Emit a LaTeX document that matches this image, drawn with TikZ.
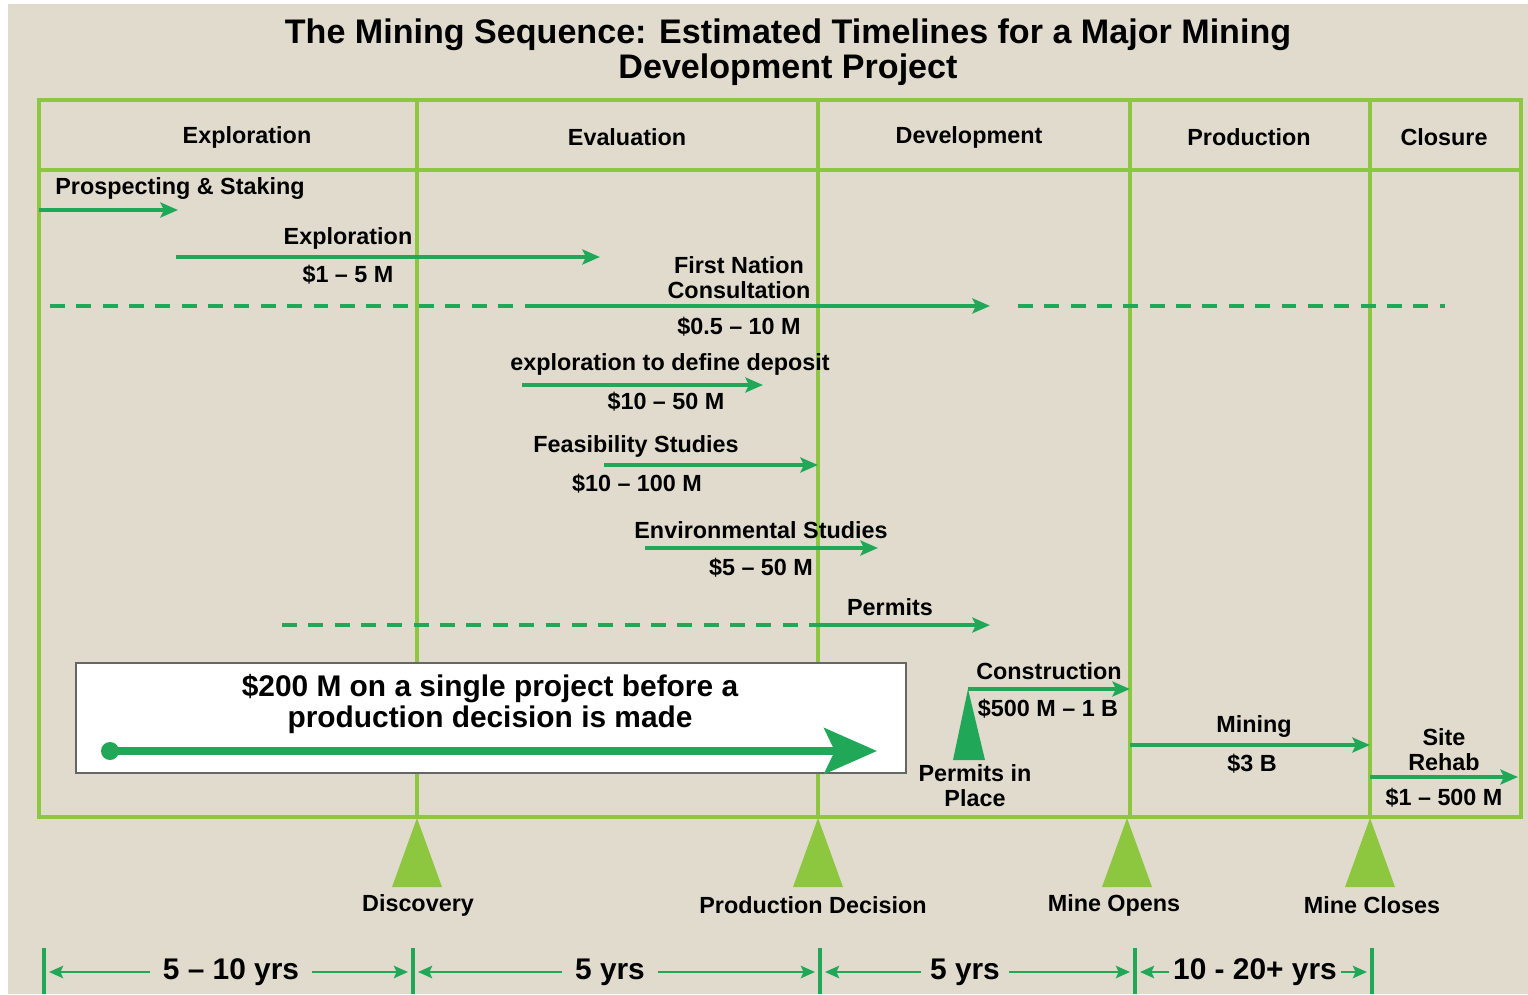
\documentclass[tikz,border=0pt]{standalone}
\usepackage{fontspec}
\setmainfont{Liberation Sans}
\usetikzlibrary{arrows.meta,calc}

\definecolor{paper}{RGB}{225,219,205}
\definecolor{lime}{RGB}{141,198,63}
\definecolor{leaf}{RGB}{32,168,88}

\tikzset{
  lbl/.style={font=\bfseries\fontsize{13.3}{14.2}\selectfont, align=center, inner sep=0pt},
  big/.style={font=\bfseries\fontsize{17}{18}\selectfont, align=center, inner sep=0pt},
  rail/.style={draw=lime, line width=2.8pt},
  flow/.style={draw=leaf, line width=2.3pt, -{Stealth[length=10pt,width=8.5pt,inset=2pt]}},
  plan/.style={draw=leaf, line width=2.3pt, dash pattern=on 8.5pt off 6.5pt},
  span/.style={draw=leaf, line width=1.6pt, -{Stealth[length=8pt,width=7pt,inset=1.5pt]}},
}

\begin{document}
\begin{tikzpicture}[x=0.02cm, y=-0.02cm]
            \fill[white] (0,0) rectangle (1528,994);
            \fill[paper] (8,4) rectangle (1528,994);
            \useasboundingbox (0,0) rectangle (1528,994);
            \node[font=\bfseries\fontsize{19.4}{19.8}\selectfont, align=center] (Title) at (788,52)
                {The Mining Sequence: Estimated Timelines for a Major Mining\\Development Project};
            % phase table
            \draw[rail] (39,100) rectangle (1521,817);
            \draw[rail] (39,170) -- (1521,170);
            \foreach \x in {417,818,1130,1370}
                \draw[rail] (\x,100) -- (\x,817);
            \node[lbl] (Expl) at (247,137) {Exploration};
            \node[lbl] (Eval) at (627,137) {Evaluation};
            \node[lbl] (Dev) at (969,137) {Development};
            \node[lbl] (Prod) at (1249,137) {Production};
            \node[lbl] (Clos) at (1444,137) {Closure};
            % activities
            \node[lbl, anchor=west] (PS) at (55,189) {Prospecting \& Staking};
            \node[lbl] (EX) at (348,238) {Exploration};
            \node[lbl] (EXc) at (348,275) {\$1 – 5 M};
            \node[lbl] (FN) at (739,278) {First Nation\\Consultation};
            \node[lbl] (FNc) at (739,327) {\$0.5 – 10 M};
            \node[lbl] (DD) at (670,364) {exploration to define deposit};
            \node[lbl] (DDc) at (666,402) {\$10 – 50 M};
            \node[lbl] (FS) at (636,446) {Feasibility Studies};
            \node[lbl] (FSc) at (637,484) {\$10 – 100 M};
            \node[lbl] (ES) at (761,530) {Environmental Studies};
            \node[lbl] (ESc) at (761,568) {\$5 – 50 M};
            \node[lbl] (PM) at (890,607) {Permits};
            \node[lbl] (CO) at (1049,671) {Construction};
            \node[lbl] (COc) at (1048,709) {\$500 M – 1 B};
            \node[lbl] (PP) at (975,786) {Permits in\\Place};
            \node[lbl] (MI) at (1254,726) {Mining};
            \node[lbl] (MIc) at (1252,764) {\$3 B};
            \node[lbl] (SR) at (1444,750) {Site\\Rehab};
            \node[lbl] (SRc) at (1444,798) {\$1 – 500 M};
            \foreach \n/\a/\b/\y in {PS/39/178/210, EX/176/600/257, FN/525/990/306, DD/522/763/385,
                    FS/604/818/465, ES/645/878/548, PM/818/990/625, CO/968/1130/689,
                    MI/1130/1370/745, SR/1370/1518/777} {
                \coordinate (\n a) at (\a,\y);
                \coordinate (\n b) at (\b,\y);
                \draw[flow] (\n a) -- (\n b);
            }
            \coordinate (FN0) at (50,306);
            \coordinate (FN1) at (520,306);
            \coordinate (FN2) at (1018,306);
            \coordinate (FN3) at (1445,306);
            \coordinate (PM0) at (282,625);
            \draw[plan] (FN0) -- (FN1);
            \draw[plan] (FN2) -- (FN3);
            \draw[plan] (PM0) -- (PMa);
            \fill[leaf] (COa) -- (953,760) -- (985,760) -- cycle;
            % spending box
            \draw[fill=white, draw=black!60, line width=0.9pt] (76,663) rectangle (906,773);
            \node[big] (Box) at (490,704) {\$200 M on a single project before a\\[-0.5pt]production decision is made};
            \coordinate (Dot) at (110,751);
            \coordinate (Tip) at (877,751);
            \fill[leaf] (Dot) circle (9);
            \draw[leaf, line width=4.6pt, -{Stealth[length=30pt,width=26pt,inset=6pt]}] (Dot) -- (Tip);
            % milestones
            \foreach \x in {417,818,1127,1370}
                \fill[lime] (\x,818) -- (\x-25,887) -- (\x+25,887) -- cycle;
            \node[lbl] (Disc) at (418,905) {Discovery};
            \node[lbl] (PDec) at (813,905) {Production Decision};
            \node[lbl] (MOp) at (1114,905) {Mine Opens};
            \node[lbl] (MCl) at (1372,905) {Mine Closes};
            % time spans
            \foreach \x [count=\i] in {44,413,820,1135,1372} {
                \coordinate (T\i a) at (\x,948);
                \coordinate (T\i b) at (\x,994);
                \coordinate (T\i l) at (\x-5,972);
                \coordinate (T\i r) at (\x+5,972);
                \draw[leaf, line width=1.8pt] (T\i a) -- (T\i b);
            }
            \node[big, inner xsep=7pt] (Y1) at (231,972) {5 – 10 yrs};
            \node[big, inner xsep=7pt] (Y2) at (610,972) {5 yrs};
            \node[big, inner xsep=5pt] (Y3) at (965,972) {5 yrs};
            \node[big, inner xsep=2pt] (Y4) at (1255,972) {10 - 20+ yrs};
            \draw[span] (Y1) -- (T1r);
            \draw[span] (Y1) -- (T2l);
            \draw[span] (Y2) -- (T2r);
            \draw[span] (Y2) -- (T3l);
            \draw[span] (Y3) -- (T3r);
            \draw[span] (Y3) -- (T4l);
            \draw[span] (Y4) -- (T4r);
            \draw[span] (Y4) -- (T5l);
        \end{tikzpicture}
\end{document}
